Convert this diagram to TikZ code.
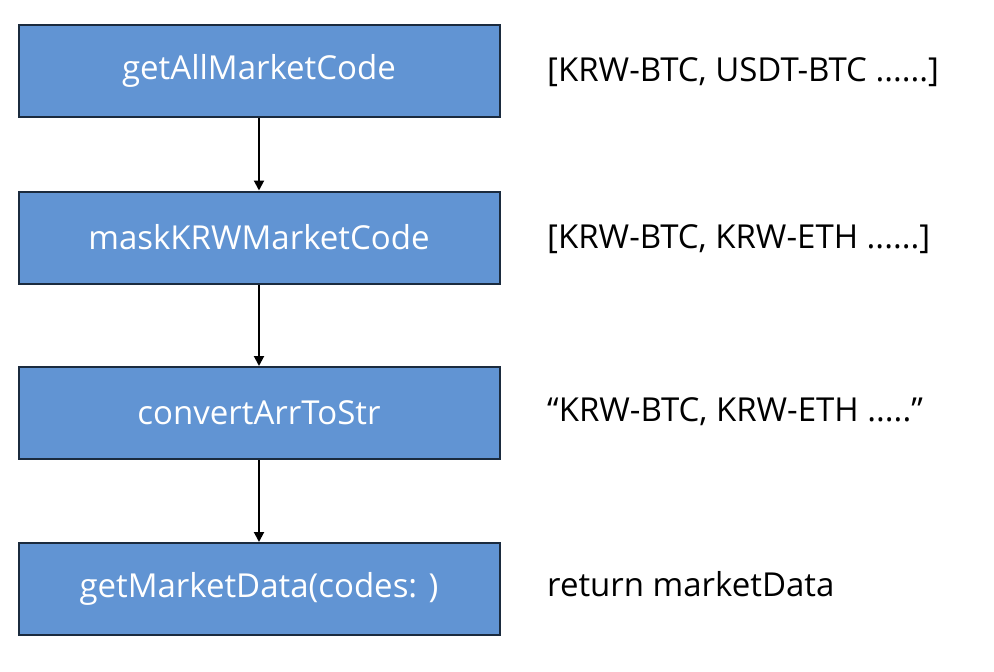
\documentclass[tikz,border=0pt]{standalone}
\usepackage{fontspec}
\setmainfont{Open Sans}
\usetikzlibrary{arrows.meta}
\definecolor{boxfill}{HTML}{6194D3}
\definecolor{boxline}{HTML}{1B2B3E}
\begin{document}
\begin{tikzpicture}[x=1pt,y=-1pt,
  stepbox/.style={draw=boxline,line width=2pt,fill=boxfill,minimum width=481pt,minimum height=92pt,inner sep=0pt,text=white,font=\fontsize{33}{38}\selectfont},
  note/.style={anchor=west,inner sep=0pt,text=black,font=\fontsize{33}{38}\selectfont},
  flow/.style={line width=2pt,-{Triangle[length=10pt,width=10pt]}}]
\useasboundingbox (0,0) rectangle (994,672);
\node[stepbox] (b1) at (259,70.5) {getAllMarketCode};
\node[stepbox] (b2) at (259,237.5) {maskKRWMarketCode};
\node[stepbox] (b3) at (259,413) {convertArrToStr};
\node[stepbox] (b4) at (259,589) {getMarketData(codes: )};
\node[note] (t1) at (547,72) {[KRW-BTC, USDT-BTC ......]};
\node[note] (t2) at (547,239) {[KRW-BTC, KRW-ETH ......]};
\node[note] (t3) at (547,412) {“KRW-BTC, KRW-ETH .....”};
\node[note] (t4) at (547,584) {return marketData};
\draw[flow] (b1) -- (b2);
\draw[flow] (b2) -- (b3);
\draw[flow] (b3) -- (b4);
\end{tikzpicture}
\end{document}
